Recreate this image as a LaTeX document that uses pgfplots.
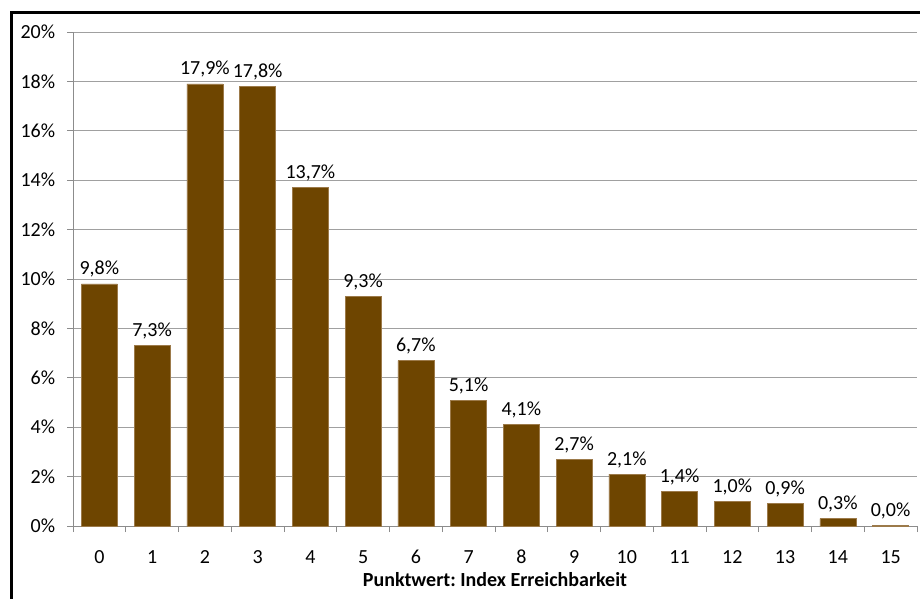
\documentclass[border=0pt]{standalone}
\usepackage{fontspec}
\setmainfont{Carlito}
\usepackage{pgfplots}
\pgfplotsset{compat=1.18}
\definecolor{barbrown}{HTML}{6E4500}
\definecolor{baredge}{HTML}{9C7A4A}
\definecolor{gridgray}{HTML}{A0A0A0}
\definecolor{axisgray}{HTML}{8C8C8C}
\frenchspacing
\begin{document}
\fontsize{20}{24}\selectfont
\begin{tikzpicture}
\path[use as bounding box] (-73pt,-73pt) rectangle (847pt,526pt);
\draw[line width=3pt] (-61pt,-80pt) -- (-61pt,513pt) -- (860pt,513pt);
\begin{axis}[
  at={(0pt,0pt)}, anchor=south west,
  scale only axis, width=844pt, height=494pt,
  xmin=-0.5, xmax=15.5, ymin=0, ymax=20,
  enlargelimits=false, clip=false,
  /pgf/number format/assume math mode=true,
  axis lines*=left,
  axis line style={axisgray, line width=0.8pt, -},
  xtick={0,...,15},
  major x tick style={draw=none},
  minor xtick={-0.5,0.5,...,15.5},
  minor x tick style={axisgray, line width=0.8pt},
  minor tick length=6pt,
  ytick={0,2,...,20},
  major tick length=6pt,
  y tick style={axisgray, line width=0.8pt},
  tick align=outside,
  ymajorgrids,
  major grid style={gridgray, line width=0.8pt},
  yticklabel={\pgfmathprintnumber{\tick}\%},
  ticklabel style={font=\fontsize{20}{24}\selectfont},
  yticklabel style={xshift=-5pt},
  xticklabel style={anchor=base, yshift=-31pt},
  xlabel={\bfseries\frenchspacing Punktwert: Index Erreichbarkeit},
  xlabel style={at={(rel axis cs:0.5,0)}, anchor=base, yshift=-60pt, font=\fontsize{20}{24}\selectfont},
  ybar, bar width=36pt,
  nodes near coords={\pgfmathprintnumber[fixed,fixed zerofill,precision=1,use comma]{\pgfplotspointmeta}\%},
  every node near coord/.append style={anchor=base, yshift=9pt, inner sep=0pt, font=\fontsize{20}{24}\selectfont, text=black},
]
\addplot[fill=barbrown, draw=baredge, line width=0.6pt] coordinates {
(0,9.8) (1,7.3) (2,17.9) (3,17.8) (4,13.7) (5,9.3) (6,6.7) (7,5.1)
(8,4.1) (9,2.7) (10,2.1) (11,1.4) (12,1.0) (13,0.9) (14,0.3) (15,0.04)
};
\end{axis}
\end{tikzpicture}
\end{document}
